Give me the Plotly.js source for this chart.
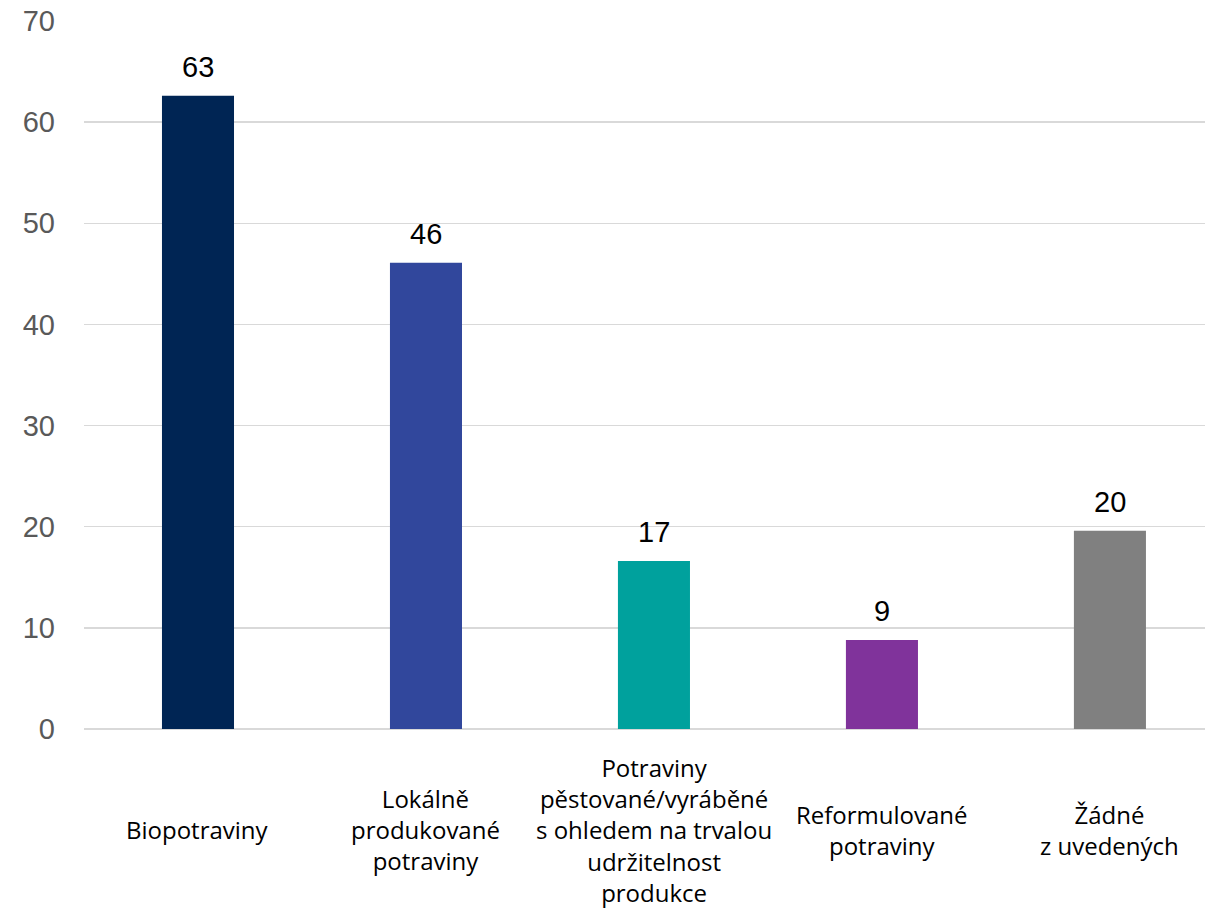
<!DOCTYPE html>
<html>
<head>
<meta charset="utf-8">
<script src="https://cdn.plot.ly/plotly-3.0.1.min.js"></script>
<style>html,body{margin:0;padding:0;background:#fff;}#chart{width:1205px;height:908px;}</style>
</head>
<body>
<div id="chart"></div>
<script>
const categories = ["Biopotraviny", "Lokálně<br>produkované<br>potraviny", "Potraviny<br>pěstované/vyráběné<br>s ohledem na trvalou<br>udržitelnost<br>produkce", "Reformulované<br>potraviny", "Žádné<br>z uvedených"];
const values = [62.6, 46.1, 16.6, 8.8, 19.6];
const valueLabels = ["63", "46", "17", "9", "20"];
const barColors = ["#002554", "#31479C", "#00A19D", "#80339B", "#808080"];
const yTicks = [0, 10, 20, 30, 40, 50, 60, 70];

const trace = {
  type: "bar",
  x: categories,
  y: values,
  marker: {color: barColors},
  width: 0.316,
  hoverinfo: "skip"
};

const annotations = [];
categories.forEach((c, i) => {
  annotations.push({
    x: c, y: values[i], xref: "x", yref: "y",
    text: valueLabels[i], showarrow: false,
    yanchor: "middle", yshift: 29,
    font: {family: "Liberation Sans, Arial, sans-serif", size: 29, color: "#000"}
  });
  annotations.push({
    x: c, y: -0.142, xref: "x", yref: "paper",
    text: c, showarrow: false, borderpad: 0,
    yanchor: "middle", xanchor: "center",
    font: {family: "Open Sans, sans-serif", size: 24, color: "#000"}
  });
});

const layout = {
  width: 1205, height: 908,
  margin: {l: 84, r: 0, t: 21, b: 179},
  paper_bgcolor: "#fff", plot_bgcolor: "#fff",
  showlegend: false,
  xaxis: {
    type: "category",
    range: [-0.5, 4.417],
    showticklabels: false,
    showgrid: false, zeroline: false, showline: false, ticks: ""
  },
  yaxis: {
    range: [0, 70],
    tickvals: yTicks,
    ticktext: yTicks.map(String),
    showgrid: true, gridcolor: "#D9D9D9", gridwidth: 1.3,
    zeroline: true, zerolinecolor: "#D9D9D9", zerolinewidth: 1.3,
    showline: false, ticks: "",
    ticklabelstandoff: 28,
    tickfont: {family: "Liberation Sans, Arial, sans-serif", size: 29, color: "#595959"}
  },
  annotations: annotations
};

Plotly.newPlot("chart", [trace], layout, {displayModeBar: false, staticPlot: true});
</script>
</body>
</html>
